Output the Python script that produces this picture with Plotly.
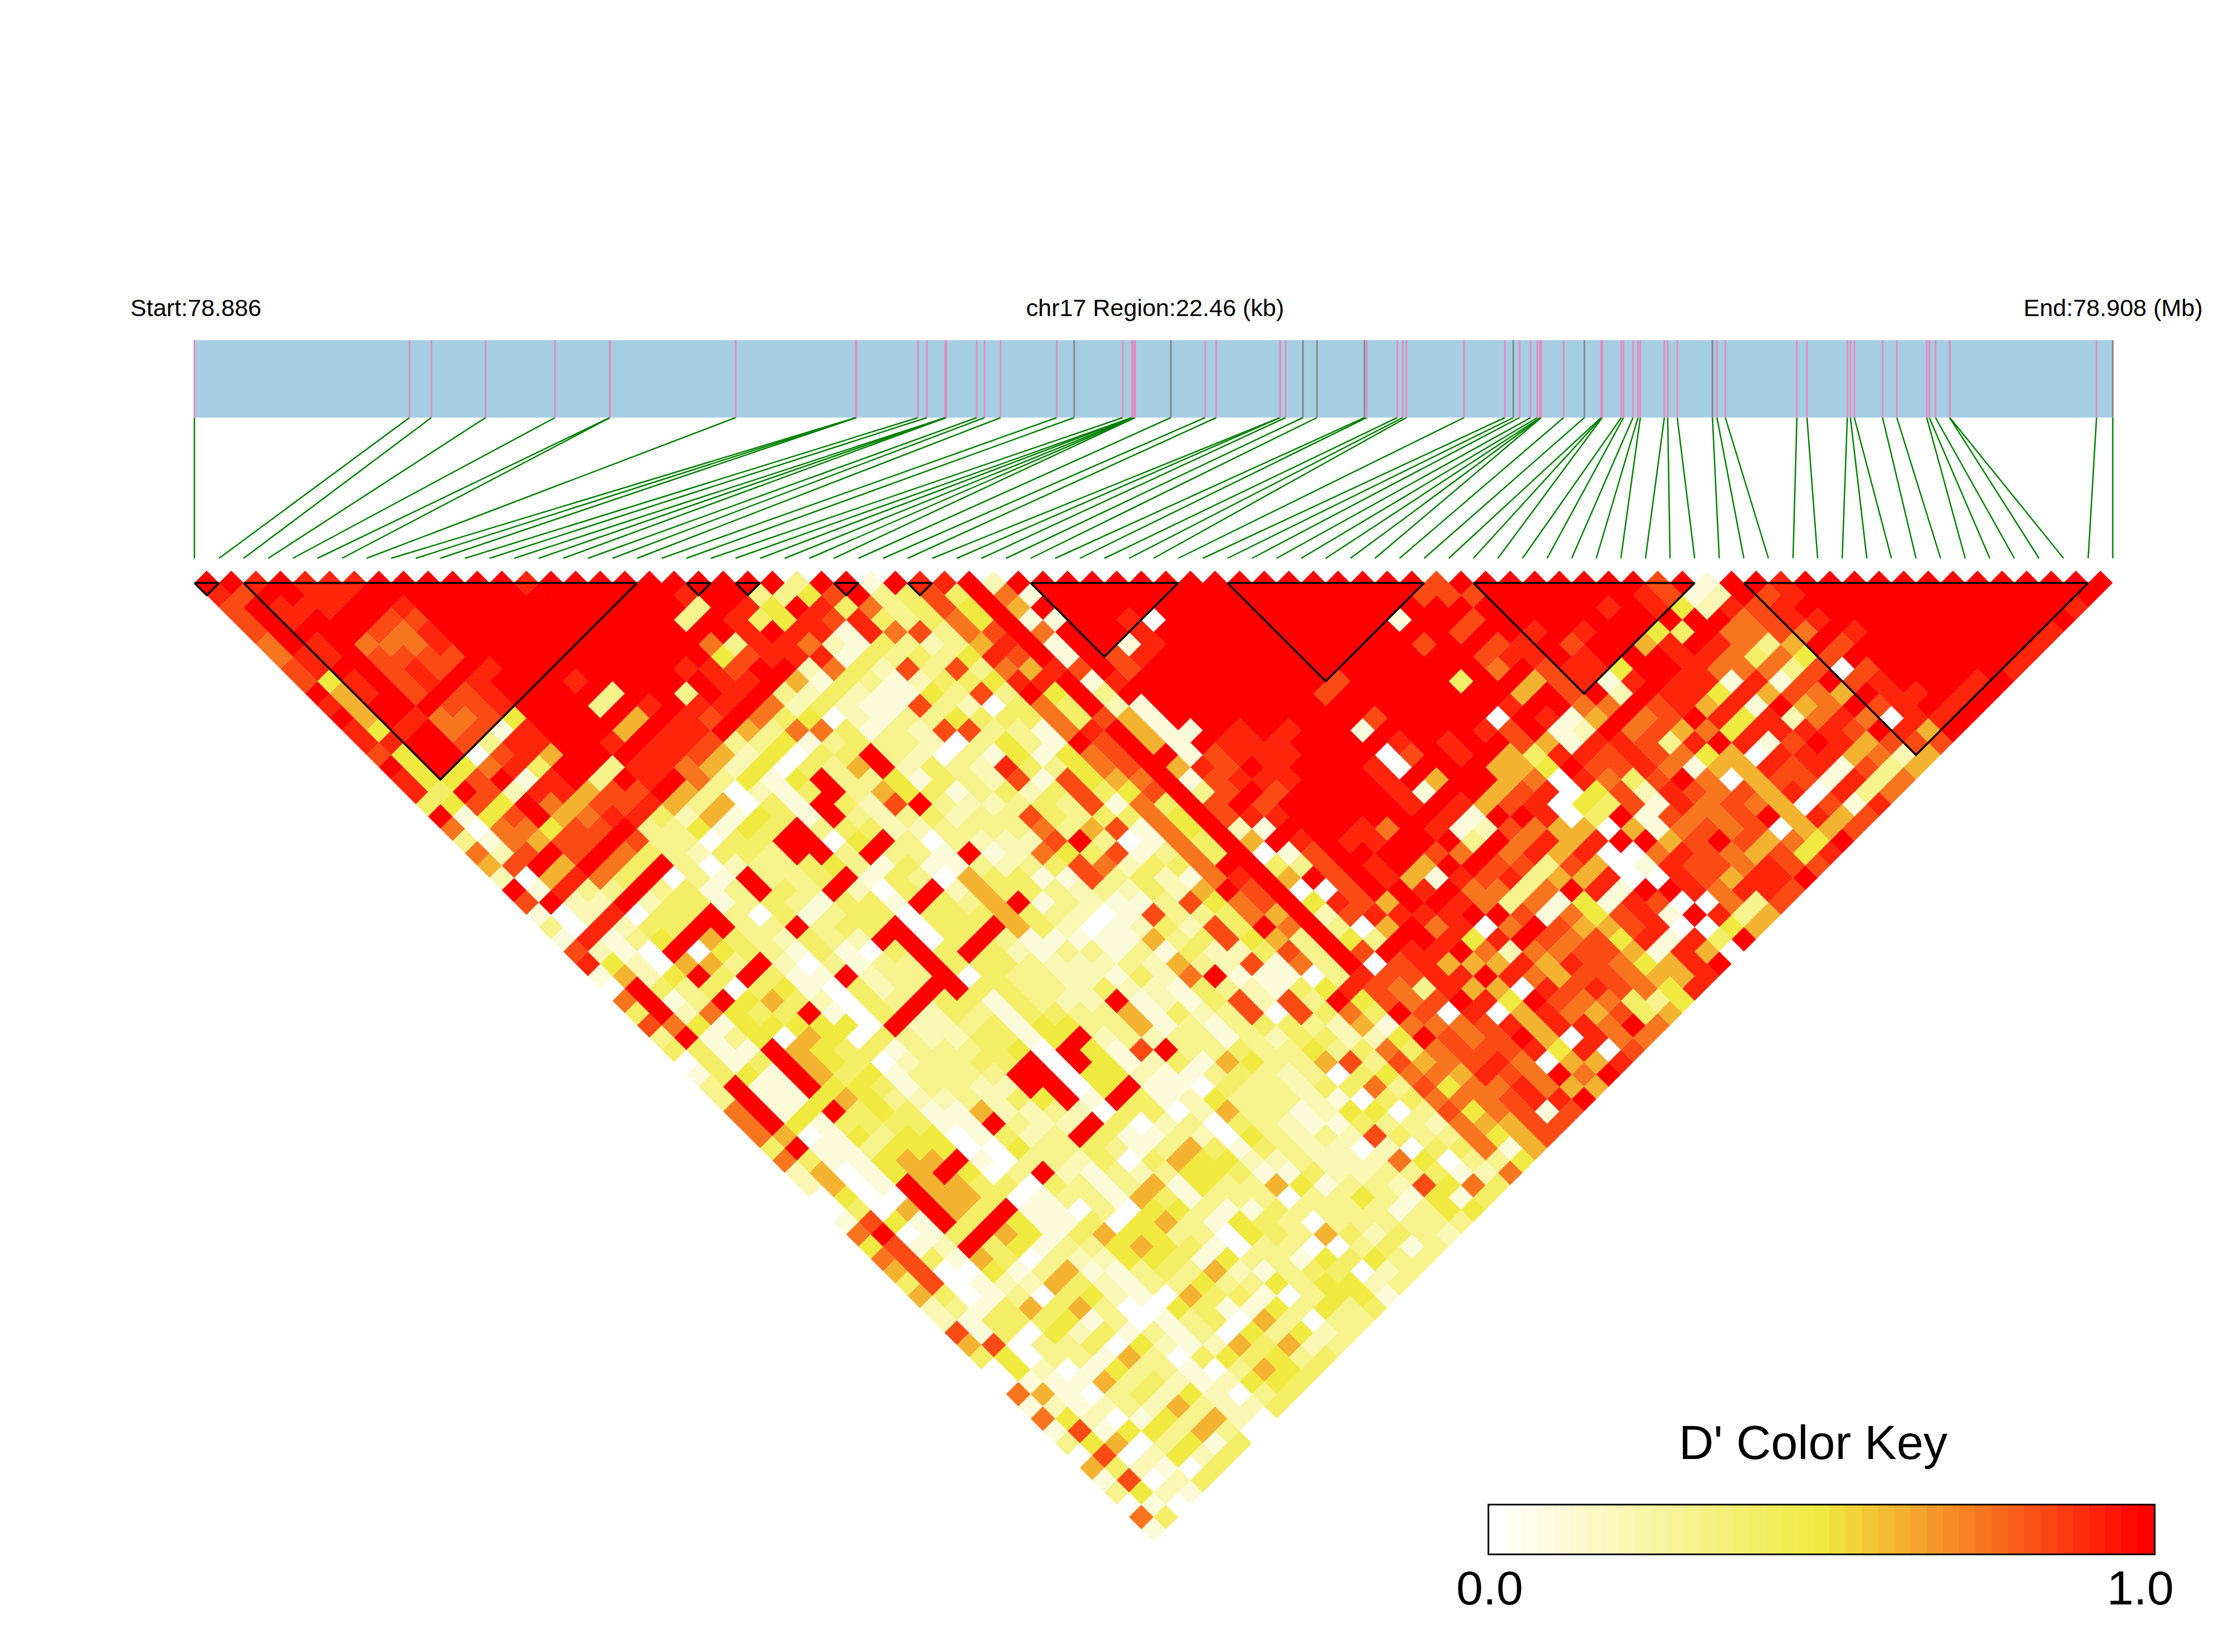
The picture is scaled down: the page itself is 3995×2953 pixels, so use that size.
"""
LD block heatmap (D') for the chr17 region, drawn as diamonds with a SNP track above it.
"""
import plotly.graph_objects as go

WIDTH = 3995
HEIGHT = 2953

# SNP positions inside the region, in kb from the start
SNP_KB = [
    0.0, 2.518, 2.774, 3.409, 4.222, 4.863, 4.867, 6.337, 7.745, 7.749,
    7.752, 8.472, 8.577, 8.793, 8.797, 8.803, 9.160, 9.252, 9.439, 10.097,
    10.300, 10.870, 10.975, 10.978, 11.001, 11.007, 11.014, 11.433, 11.833, 11.964,
    12.710, 12.713, 12.776, 12.979, 13.143, 13.699, 13.726, 14.083, 14.148, 14.191,
    14.865, 15.343, 15.442, 15.514, 15.645, 15.723, 15.756, 15.763, 15.769, 16.031,
    16.274, 16.470, 16.476, 16.483, 16.706, 16.732, 16.843, 16.902, 16.929, 17.210,
    17.249, 17.361, 17.773, 17.826, 17.924, 18.762, 18.880, 19.352, 19.388, 19.434,
    19.765, 19.932, 20.282, 20.312, 20.384, 20.550, 20.553, 22.270, 22.460,
]
REGION_KB = 22.46
GRAY_SNPS = [20, 27, 33, 34, 35, 42, 50, 62, 78]

# haplotype blocks as (first SNP, last SNP)
BLOCKS = [(0, 1), (2, 18), (20, 21), (22, 23), (26, 27), (29, 30),
          (34, 40), (42, 50), (52, 61), (63, 77)]

# D' by SNP distance: row n holds pairs (i, i+n+1), one character per pair
DPRIME_LEVELS = {"0": 0.0, "1": 0.1, "2": 0.2, "3": 0.3, "4": 0.4, "5": 0.5,
                 "6": 0.62, "7": 0.75, "8": 0.84, "9": 0.92, "X": 1.0}
DPRIME_ROWS = [
    "XX9X999XXX XXX9XXXXXX XXXX3XX1X9 9X2XXXXXXX XXXXXXXXXX 8XXXXXXXX8 X1XX9XXXXX XXXXXXXX",
    "98XX99XXXX XXXXXXXXX9 XX3358X348 4X71XXXXXX XXXXXXXXX8 88XXXXXX98 12X89XXXXX XXXXXXX",
    "8X999XX9XX XXXXXXXXX3 X95X947348 5X6XXXXXXX XXXXXXXXXX XXXXXX9X95 2989XXXXXX XXXXX9",
    "8X9XXX88XX XXXXXXXX3X 9459894347 5X11XX90XX XXXXXXX1XX 8XXXXXXXXX X7899XXXXX XXXXX",
    "8XXXX879XX XXXXXXXXXX 9X99197837 8X7XXX9XXX XXXXXXXXX8 XX9X9XX54X 7787X9XXXX XXX9",
    "7X9X7779XX XXXXXXXX73 9972143236 9X1XX19XXX XXXXXXX8XX 89X8XX69X9 736X8XXXXX XX9",
    "799X8888XX XXXXXXXX58 9991434359 8X1X89XXXX XXXXXXXXX8 99X9XXX997 4758XXXXXX X9",
    "89XX898X9X XXXXXX998X X274283837 698X8XXXXX XXXXXXXXX7 X8995XX977 73808XXXXX 9",
    "859X89X9XX X9XXXXX99X 6143124459 9X19XXXXXX XX8XXXX4XX 68919X9919 18X89XXX9X",
    "X69X8X89XX XX3XX3X9X3 242115383X 5X3XXXXXXX X8XXXXXXX6 X8X2X99596 876X99X9X",
    "96XXX889XX X3X9X99X72 4211832047 4X21XXXXXX XXXXXXXX9X X77X89691X 67X89X9X",
    "X6X97785XX XX6X98X745 0213354447 4861XXXXXX XX8XXXX0X9 16X78X9592 797099X",
    "959X7819XX X6X99X6377 4132883317 9X611X9X9X X1XXXX98X1 2X78675999 98X96X",
    "99XX8399XX 9X99833513 433203531X 8X61X999XX XX9X9XX861 99839X918X 96888",
    "85XX0896XX X998625044 X320315157 8XX18999XX X08X9X6499 8987560999 6726",
    "X5X5794XX3 9976250436 X243294357 8X698X9XXX 90XXX665X8 8971669891 836",
    "9558X19X3X 9X73515X33 5143281856 7X18999XXX 9X6XX67097 48X7068819 37",
    "94X8299688 X630214X36 5413424845 8X38X8XXXX 91XX689058 2987869093 7",
    "4585X76889 636041X428 X322343817 4X8X8XXXXX 9X96890548 1978760819",
    "X158X67994 261541X323 4233843447 5X899XXXXX X91XX904X1 8778X6968",
    "7077588X33 5154X34422 3333736817 5X21XXX97X 9128766061 78780668",
    "317688X833 044XX05X30 32228X3017 4X6X9X99XX X3X7969XX6 8X8675X",
    "728X8X7432 443XX3X331 X127548137 4X018XXXX8 7X79690079 876859",
    "68X6X74X30 2334531411 3234872447 XX438X9X6X X883860198 87988",
    "206974X031 X334X14306 4411834217 9X6X8X9619 8936690098 699X",
    "X1933X3413 X43X204X26 443232426X 8X008XX9X7 737X91XX97 998",
    "8X22X24413 431441X436 X132113857 8X5986XX97 3715198007 38",
    "1029044X30 4134404446 4320183347 6X289999XX 8175891X93 6",
    "309244XX33 X344X044X6 420124284X 7X306X7907 X866890056",
    "19135X6432 432XX04X31 1111634856 3X53XX959X 87859194X",
    "8210X05431 4104X4X421 3313142248 3X8X99X727 78861960",
    "9520663X20 3133X44432 2232632817 3X08966696 987569X",
    "1625X4X411 X233X04332 21427X1110 398899X976 887669",
    "0X43404510 423XX44332 4221432145 9873966098 98759",
    "7X13X56420 43X4414322 X12148283X 5878X95X87 7435",
    "4X27544X10 4X24314433 6142380847 4X80906976 846",
    "8751555550 X223415533 6131344326 1777896997 X7",
    "3X13506504 3224415X23 2331324422 5X878X6097 7",
    "4411X65441 333450X518 X334335347 4788895908",
    "0414X65402 3344X0X512 4165336838 678970669",
    "1451X64513 333XX05521 1343230457 76987X7X",
    "3X11X55413 322XX05X11 0433244738 5779766",
    "3X11565322 3245X1X412 5333210447 77899X",
    "7X15X45411 6223204402 6331255038 57818",
    "7X51444411 X322X40230 4321143327 6688",
    "7601535501 423X411320 5323284337 568",
    "4X11355500 5334313641 4322020447 16",
    "7411566X10 3324046552 2322275033 5",
    "260156X503 X213235541 1422334127",
    "2601X66440 4313615336 513328574",
    "0500X66401 3316413330 33531514",
    "0406X64X11 0305531143 3331355",
    "1851X4X511 4056315430 333333",
    "7X014X6514 6553305436 42432",
    "5812X45133 5654103300 3413",
    "7841640322 5541533154 533",
    "6800513611 3436213440 23",
    "4801226421 3353353552 3",
    "6401304521 0644103551",
    "2314646300 541153534",
    "2144451301 34063033",
    "8140524131 3053523",
    "6803340521 264623",
    "4503316304 54534",
    "0520153310 3654",
    "0111634212 554",
    "7610342520 34",
    "1212326322 4",
    "7520153620",
    "181553630",
    "35603514",
    "0802524",
    "642104",
    "18024",
    "3521",
    "010",
    "74",
    "1",
]

KEY_LEVELS = [n / 40 for n in range(41)]

# page geometry, in px
SNP_LEFT = 347.5
SNP_STEP = 3429 / 78
ROW_TOP = 1020
ROW_STEP = 21.97

WHITE = (255, 255, 255)
YELLOW = (240, 234, 64)
RED = (255, 0, 0)


def dprime_color(value):
    """White to yellow up to 0.5, yellow to red above it."""
    if value <= 0.5:
        low, high, t = WHITE, YELLOW, value / 0.5
    else:
        low, high, t = YELLOW, RED, (value - 0.5) / 0.5
    rgb = [round(a + (b - a) * t) for a, b in zip(low, high)]
    return f"rgb({rgb[0]},{rgb[1]},{rgb[2]})"


def row_y(px):
    return (px - ROW_TOP) / ROW_STEP


def kb_to_x(kb):
    return kb / REGION_KB * 78


def segments(pairs):
    xs, ys = [], []
    for (x0, y0), (x1, y1) in pairs:
        xs += [x0, x1, None]
        ys += [y0, y1, None]
    return xs, ys


TRACK_TOP = row_y(608)
TRACK_BOTTOM = row_y(746.5)
LINK_BOTTOM = row_y(998)

fig = go.Figure()

fig.add_shape(type="rect", x0=0, x1=78, y0=TRACK_TOP, y1=TRACK_BOTTOM,
              fillcolor="#A6CEE3", line={"width": 0}, layer="below")

# lines from the track to the matrix
link_x, link_y = segments([((kb_to_x(kb), TRACK_BOTTOM), (i, LINK_BOTTOM))
                           for i, kb in enumerate(SNP_KB)])
fig.add_trace(go.Scatter(x=link_x, y=link_y, mode="lines",
                         line={"color": "#008000", "width": 2.5}))

# SNP ticks on the track
pink = [kb for i, kb in enumerate(SNP_KB) if i not in GRAY_SNPS]
gray = [SNP_KB[i] for i in GRAY_SNPS]
for kbs, color in ((pink, "#E48ABE"), (gray, "#868686")):
    tick_x, tick_y = segments([((kb_to_x(kb), TRACK_TOP), (kb_to_x(kb), TRACK_BOTTOM))
                               for kb in kbs])
    fig.add_trace(go.Scatter(x=tick_x, y=tick_y, mode="lines",
                             line={"color": color, "width": 3}))

# one filled trace per D' level, every cell a diamond
cells = {}
for n, row in enumerate(DPRIME_ROWS):
    row = row.replace(" ", "")
    dist = n + 1
    if len(row) != 79 - dist:
        raise ValueError(f"row {dist} has {len(row)} cells")
    for i, ch in enumerate(row):
        mid = i + dist / 2
        xs, ys = cells.setdefault(DPRIME_LEVELS[ch], ([], []))
        xs += [mid - 0.5, mid, mid + 0.5, mid, mid - 0.5, None]
        ys += [dist, dist - 1, dist, dist + 1, dist, None]

for value, (xs, ys) in sorted(cells.items()):
    fig.add_trace(go.Scatter(x=xs, y=ys, mode="lines", fill="toself",
                             fillcolor=dprime_color(value),
                             line={"width": 0}))

# block outlines
for first, last in BLOCKS:
    fig.add_trace(go.Scatter(
        x=[first, last, (first + last) / 2, first],
        y=[1, 1, last - first + 1, 1],
        mode="lines", line={"color": "black", "width": 3.5}))

# colour key
fig.add_trace(go.Heatmap(
    z=[KEY_LEVELS], x=KEY_LEVELS, showscale=False, xaxis="x2", yaxis="y2",
    colorscale=[[0, dprime_color(0)], [0.5, dprime_color(0.5)], [1, dprime_color(1)]],
    zmin=0, zmax=1))

labels = [
    ("Start:78.886", 231, 550, 43, "left"),
    ("chr17 Region:22.46 (kb)", 2064, 550, 43, "center"),
    ("End:78.908 (Mb)", 3939, 550, 43, "right"),
    ("D' Color Key", 3241, 2578, 86, "center"),
    ("0.0", 2663, 2838, 86, "center"),
    ("1.0", 3826, 2838, 86, "center"),
]
for text, px, py, size, anchor in labels:
    fig.add_annotation(text=text, x=px / WIDTH, y=1 - py / HEIGHT, xref="paper", yref="paper",
                       xanchor=anchor, yanchor="middle", showarrow=False,
                       font={"family": "Liberation Sans", "size": size, "color": "black"})

fig.update_layout(
    width=WIDTH, height=HEIGHT, margin={"l": 0, "r": 0, "t": 0, "b": 0, "pad": 0},
    paper_bgcolor="white", plot_bgcolor="white", showlegend=False, hovermode=False,
    xaxis={"range": [-SNP_LEFT / SNP_STEP, (WIDTH - SNP_LEFT) / SNP_STEP],
           "visible": False, "domain": [0, 1]},
    yaxis={"range": [(HEIGHT - ROW_TOP) / ROW_STEP, -ROW_TOP / ROW_STEP],
           "visible": False, "domain": [0, 1]},
    xaxis2={"domain": [2662 / WIDTH, 3850 / WIDTH], "anchor": "y2",
            "range": [-1 / 80, 1 + 1 / 80], "showticklabels": False, "ticks": "",
            "showgrid": False, "zeroline": False, "showline": True, "mirror": True,
            "linecolor": "black", "linewidth": 3},
    yaxis2={"domain": [1 - 2777 / HEIGHT, 1 - 2691 / HEIGHT], "anchor": "x2",
            "showticklabels": False, "ticks": "",
            "showgrid": False, "zeroline": False, "showline": True, "mirror": True,
            "linecolor": "black", "linewidth": 3},
)

fig.write_html("out.html", config={"displayModeBar": False},
               post_script="document.body.style.margin='0';")
